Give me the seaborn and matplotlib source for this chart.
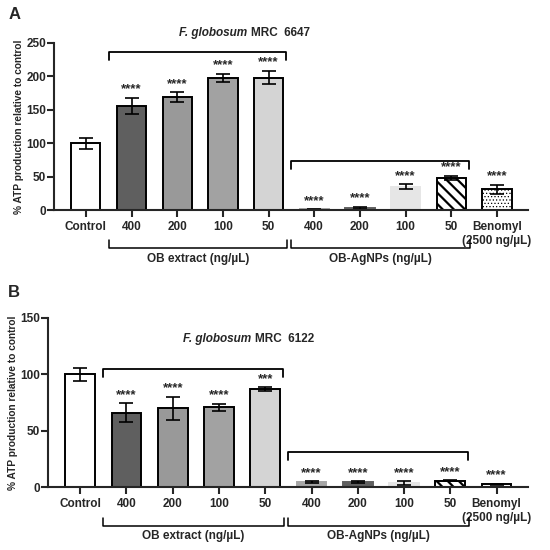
import pandas as pd
import seaborn as sns
import matplotlib.pyplot as plt
from matplotlib import transforms

# Treatment groups (unique keys) and the labels printed under each bar
groups = ["Control", "OB 400", "OB 200", "OB 100", "OB 50",
          "AgNP 400", "AgNP 200", "AgNP 100", "AgNP 50", "Benomyl"]
tick_labels = ["Control", "400", "200", "100", "50",
               "400", "200", "100", "50", "Benomyl\n(2500 ng/µL)"]

# Panel A: F. globosum MRC 6647
atp_6647 = [100, 156, 169, 198, 198, 1, 3.5, 35, 48, 31]
sd_6647 = [8, 12, 7, 6, 10, 0.6, 1.5, 4, 3, 7]
stars_6647 = ["", "****", "****", "****", "****",
              "****", "****", "****", "****", "****"]

# Panel B: F. globosum MRC 6122
atp_6122 = [100, 66, 70, 71, 87, 4.4, 4.7, 3.8, 5.8, 2.5]
sd_6122 = [6, 8.5, 10, 3, 1.5, 0.8, 0.6, 1.6, 0.5, 0.6]
stars_6122 = ["", "****", "****", "****", "***",
              "****", "****", "****", "****", "****"]

# Groupings for the brackets
ob_idx = [1, 2, 3, 4]
agnp_idx = [5, 6, 7, 8]
group_names = ["OB extract (ng/µL)", "OB-AgNPs (ng/µL)"]

# Bar styling
fills = ["white", "#5f5f5f", "#999999", "#a2a2a2", "#d4d4d4",
         "#a6a6a6", "#606060", "#e6e6e6", "white", "white"]
edges = ["black", "black", "black", "black", "black",
         "#a6a6a6", "#606060", "#e6e6e6", "black", "black"]
hatches = ["", "", "", "", "", "", "", "", "\\\\\\", "....."]
hatch_lw = [None] * 8 + [1.6, 0.5]

sns.set_theme(style="ticks")
plt.rcParams["font.family"] = ["Liberation Sans", "DejaVu Sans"]
plt.rcParams["hatch.linewidth"] = 1.6


def draw_panel(ax, values, sd, stars, ymax, ystep, bracket_heights, strain, title_xy):
    df = pd.DataFrame({"group": groups, "atp": values})
    sns.barplot(data=df, x="group", y="atp", hue="group", order=groups,
                palette=dict(zip(groups, fills)), saturation=1, width=0.64,
                legend=False, ax=ax)
    for patch, ec, h, hl in zip(ax.patches, edges, hatches, hatch_lw):
        patch.set_edgecolor(ec)
        patch.set_linewidth(1.4)
        if h:
            patch.set_hatch(h)
            if hasattr(patch, "set_hatch_linewidth"):
                patch.set_hatch_linewidth(hl)

    xs = list(range(len(groups)))
    ax.errorbar(xs, values, yerr=sd, fmt="none", ecolor="black",
                elinewidth=1.2, capsize=5, capthick=1.2)

    # significance stars
    for x, v, e, s in zip(xs, values, sd, stars):
        if s:
            ax.annotate(s, (x, v + e), xytext=(0, 6), textcoords="offset points",
                        ha="center", va="center", fontsize=9.5, fontweight="bold")

    # brackets above the groups
    drop = 0.048 * ymax
    for idx, h in zip([ob_idx, agnp_idx], bracket_heights):
        x0, x1 = idx[0] - 0.5, idx[-1] + 0.38
        ax.plot([x0, x0, x1, x1], [h - drop, h, h, h - drop],
                color="black", lw=1.3, clip_on=False)

    # brackets below the tick labels
    trans = transforms.blended_transform_factory(ax.transData, ax.transAxes)
    for idx, name in zip([ob_idx, agnp_idx], group_names):
        x0, x1 = idx[0] - 0.5, idx[-1] + 0.4
        ax.plot([x0, x0, x1, x1], [-0.18, -0.228, -0.228, -0.18],
                color="black", lw=1.1, transform=trans, clip_on=False)
        ax.text((x0 + x1) / 2, -0.29, name, transform=trans, ha="center",
                va="center", fontsize=8.5, fontweight="bold")

    # strain title
    tx, ty = title_xy
    ax.text(tx, ty, "F. globosum", transform=ax.transAxes, ha="right", va="center",
            fontsize=8.5, fontweight="bold", style="italic")
    ax.text(tx + 0.009, ty, f"MRC  {strain}", transform=ax.transAxes, ha="left",
            va="center", fontsize=8.5, fontweight="bold")

    ax.set_xlim(-0.7, 9.68)
    ax.set_ylim(0, ymax)
    ax.set_yticks(range(0, ymax + 1, ystep))
    ax.set_xticks(xs)
    ax.set_xticklabels(tick_labels)
    ax.set_xlabel("")
    ax.set_ylabel("% ATP production relative to control", fontsize=7.3,
                  fontweight="bold", labelpad=2)
    ax.tick_params(axis="both", width=1.5, length=5, labelsize=8.5)
    ax.tick_params(axis="x", pad=3)
    ax.tick_params(axis="y", pad=0.5)
    for lab in ax.get_xticklabels() + ax.get_yticklabels():
        lab.set_fontweight("bold")
    sns.despine(ax=ax)
    for sp in ["left", "bottom"]:
        ax.spines[sp].set_linewidth(1.5)


fig = plt.figure(figsize=(5.5, 5.5), dpi=100)
ax_a = fig.add_axes([0.098, 0.618, 0.862, 0.304])
ax_b = fig.add_axes([0.087, 0.114, 0.873, 0.308])

draw_panel(ax_a, atp_6647, sd_6647, stars_6647, 250, 50, [237, 74], "6647", (0.407, 1.06))
draw_panel(ax_b, atp_6122, sd_6122, stars_6122, 150, 50, [104.7, 31], "6122", (0.423, 0.874))

fig.text(0.027, 0.973, "A", fontsize=12, fontweight="bold", ha="center", va="center")
fig.text(0.025, 0.469, "B", fontsize=12, fontweight="bold", ha="center", va="center")

fig.savefig("out.png", dpi=100)
